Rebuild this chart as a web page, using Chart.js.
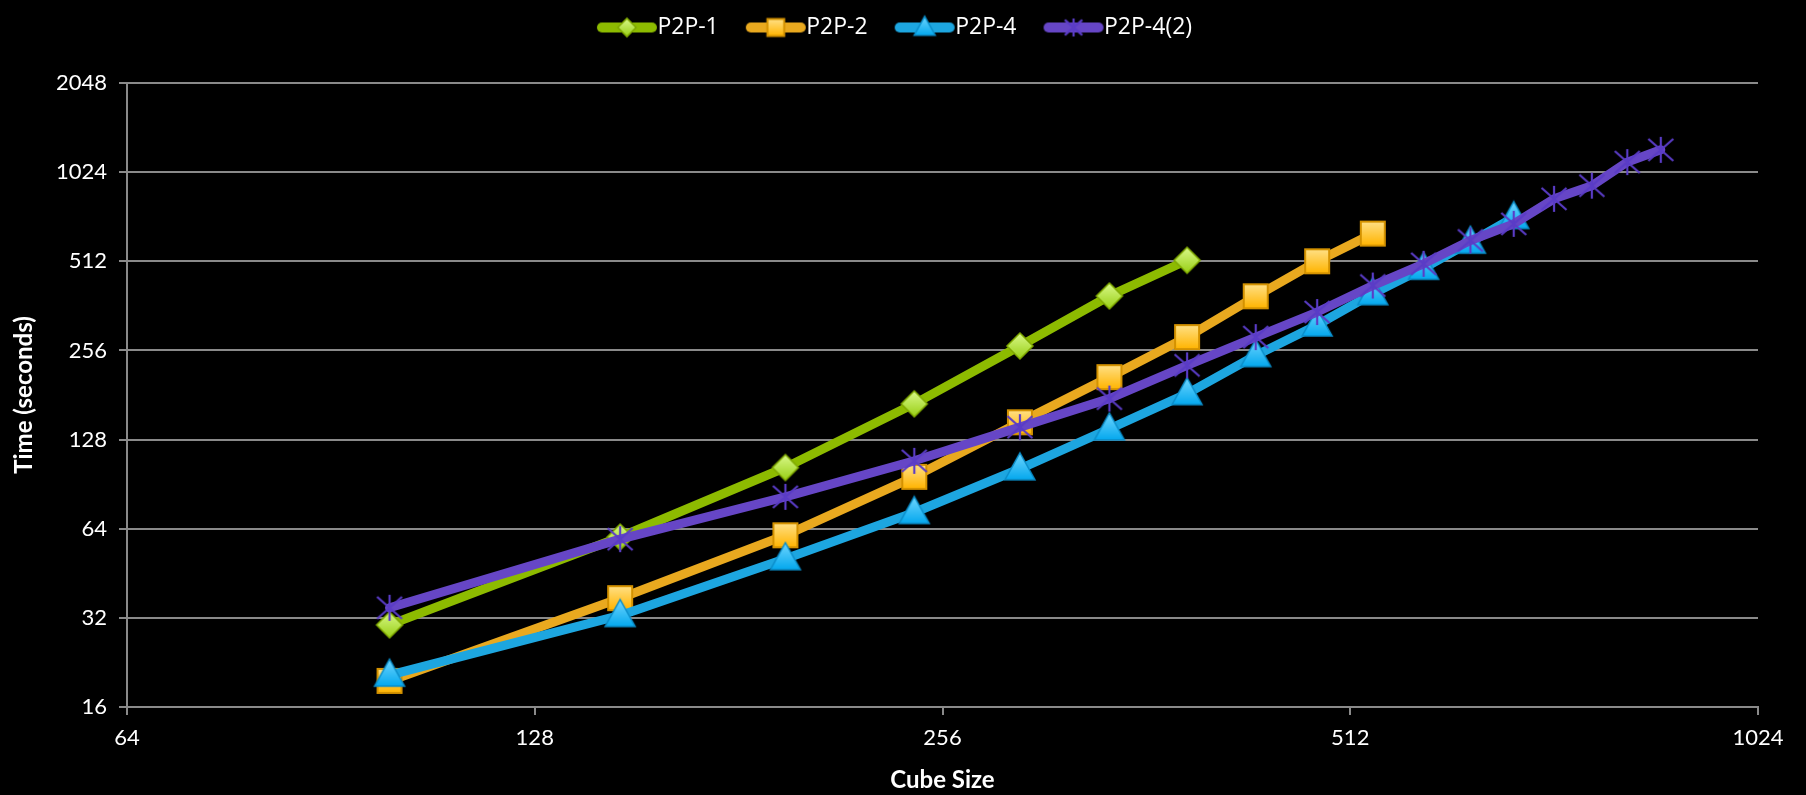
<!DOCTYPE html>
<html><head><meta charset="utf-8">
<script src="https://cdn.jsdelivr.net/npm/chart.js@4.4.0/dist/chart.umd.min.js"></script>
<style>html,body{margin:0;padding:0;background:#000;overflow:hidden}#wrap{width:1806px;height:795px}</style>
</head><body><div id="wrap"><canvas id="c" width="1806" height="795"></canvas></div>
<script>
const cubeSizes = [100,148,196,244,292,340,388,436,484,532,580,628,676,724,772,820,868];
const p2p1  = [30.3, 60, 103, 169, 265, 391, 516];
const p2p2  = [19.6, 37.3, 60.8, 95.8, 146.4, 208, 284, 390, 512, 635];
const p2p4  = [20.5, 32.6, 50.7, 72.6, 102, 139, 183, 246, 312, 398, 485, 594, 720];
const p2p42 = [34.6, 59, 82, 108.5, 141, 176, 228, 284, 345, 424, 502, 602, 685, 832, 922, 1107, 1218];
const xTicks = [64,128,256,512,1024];
const yTicks = [16,32,64,128,256,512,1024,2048];
const seriesNames = ['P2P-1','P2P-2','P2P-4','P2P-4(2)'];
const lineColors = ['#8DBB00','#E9A91F','#1DA6E0','#6646C6'];

const FONT = 'Lato, "Open Sans", sans-serif';
const LFONT = '"Open Sans", Lato, sans-serif';

function grad(ctx, y0, y1, c0, c1){const g=ctx.createLinearGradient(0,y0,0,y1);g.addColorStop(0,c0);g.addColorStop(1,c1);return g;}
const markerDraw = [
  function(ctx,cx,cy,k){const r=13*k;ctx.beginPath();ctx.moveTo(cx,cy-r);ctx.lineTo(cx+r,cy);ctx.lineTo(cx,cy+r);ctx.lineTo(cx-r,cy);ctx.closePath();
    ctx.fillStyle=grad(ctx,cy-r,cy+r,'#DAF98A','#98CF14');ctx.fill();ctx.lineWidth=1.5;ctx.strokeStyle='#7FA800';ctx.stroke();},
  function(ctx,cx,cy,k){const h=12*k;ctx.beginPath();ctx.rect(cx-h,cy-h,2*h,2*h);
    ctx.fillStyle=grad(ctx,cy-h,cy+h,'#FFE085','#FFB400');ctx.fill();ctx.lineWidth=2;ctx.strokeStyle='#D49200';ctx.stroke();},
  function(ctx,cx,cy,k){ctx.beginPath();ctx.moveTo(cx,cy-16*k);ctx.lineTo(cx+15*k,cy+11*k);ctx.lineTo(cx-15*k,cy+11*k);ctx.closePath();
    ctx.fillStyle=grad(ctx,cy-16*k,cy+11*k,'#70D6FF','#04A8EE');ctx.fill();ctx.lineWidth=1.5;ctx.strokeStyle='#0A8CC8';ctx.stroke();},
  function(ctx,cx,cy,k){ctx.lineWidth=2.2;ctx.strokeStyle='#5A3CC6';ctx.lineCap='butt';ctx.beginPath();
    ctx.moveTo(cx,cy-13*k);ctx.lineTo(cx,cy+13*k);
    ctx.moveTo(cx-12.5*k,cy-11*k);ctx.lineTo(cx+12.5*k,cy+11*k);
    ctx.moveTo(cx+12.5*k,cy-11*k);ctx.lineTo(cx-12.5*k,cy+11*k);ctx.stroke();}
];
function makeCanvas(w,h,fn){const c=document.createElement('canvas');c.width=w;c.height=h;fn(c.getContext('2d'));return c;}
const pointImgs = markerDraw.map(d=>makeCanvas(36,36,ctx=>d(ctx,18,18,1)));
// legend glyph: image centred on box centre (box width 60); line drawn from box-left+11 to box-left+71
const legendImgs = markerDraw.map((d,i)=>makeCanvas(160,34,ctx=>{
  ctx.lineCap='round';ctx.lineWidth=10;ctx.strokeStyle=lineColors[i];ctx.beginPath();ctx.moveTo(66,17);ctx.lineTo(116,17);ctx.stroke();
  d(ctx,91,17,0.7);
}));

const seriesValues = [p2p1,p2p2,p2p4,p2p42];
const datasets = seriesValues.map((vals,i)=>({
  label: seriesNames[i],
  data: vals.map((v,j)=>({x: cubeSizes[j], y: v})),
  borderColor: lineColors[i],
  backgroundColor: lineColors[i],
  borderWidth: 9,
  borderJoinStyle: 'round',
  borderCapStyle: 'round',
  tension: 0,
  pointStyle: pointImgs[i],
  pointRadius: 10,
  order: 4 - i
}));

const legendTweak = {id:'legendTweak', beforeInit(chart){
  const lg = chart.legend;
  const origFit = lg.fit; lg.fit = function(){ origFit.call(this); this.height = 83; };
  const origDraw = lg.draw; lg.draw = function(){ const c=this.ctx; c.save(); c.translate(10,0); origDraw.call(this); c.restore(); };
}};

new Chart(document.getElementById('c'), {
  type: 'line',
  data: { datasets },
  plugins: [legendTweak],
  options: {
    responsive: false,
    animation: false,
    events: [],
    layout: { padding: { top: 0, right: 48, left: 0, bottom: 0 } },
    plugins: {
      tooltip: { enabled: false },
      legend: {
        position: 'top',
        labels: {
          usePointStyle: true,
          pointStyleWidth: 60,
          padding: 16,
          color: '#ffffff',
          font: { family: LFONT, size: 23 },
          sort: (a,b)=>a.datasetIndex-b.datasetIndex,
          generateLabels(chart){
            const items = Chart.defaults.plugins.legend.labels.generateLabels(chart);
            items.forEach(it=>{ it.pointStyle = legendImgs[it.datasetIndex]; it.fontColor = '#ffffff'; });
            return items;
          }
        }
      }
    },
    scales: {
      x: {
        type: 'logarithmic', min: 64, max: 1024,
        afterBuildTicks(s){ s.ticks = xTicks.map(v=>({value:v})); },
        afterFit(s){ s.height = 88; },
        ticks: { color: '#ffffff', font: { family: FONT, size: 22 }, padding: 10, maxRotation: 0, autoSkip: false, callback: v=>String(v) },
        grid: { drawOnChartArea: false, drawTicks: true, tickLength: 8, color: '#8a8a8a', lineWidth: 2 },
        border: { display: true, color: '#8a8a8a', width: 2 },
        title: { display: true, text: 'Cube Size', color: '#ffffff', font: { family: FONT, size: 24, weight: 'bold' }, padding: { top: 0, bottom: 0 } }
      },
      y: {
        type: 'logarithmic', min: 16, max: 2048,
        afterBuildTicks(s){ s.ticks = yTicks.map(v=>({value:v})); },
        afterFit(s){ s.width = 127; },
        ticks: { color: '#ffffff', font: { family: FONT, size: 22 }, padding: 12, autoSkip: false, callback: v=>String(v) },
        grid: { drawTicks: true, tickLength: 8, color: '#8a8a8a', lineWidth: 2 },
        border: { display: true, color: '#8a8a8a', width: 2 },
        title: { display: true, text: 'Time (seconds)', color: '#ffffff', font: { family: FONT, size: 24, weight: 'bold' }, padding: { top: 10, bottom: 0 } }
      }
    }
  }
});
</script>
</body></html>
